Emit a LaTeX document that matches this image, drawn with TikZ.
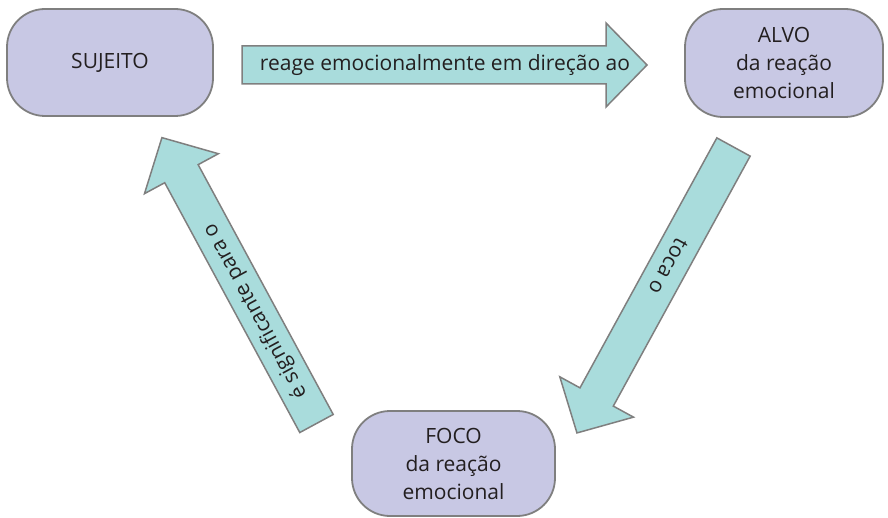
\documentclass[tikz,border=0pt]{standalone}
\usepackage{fontspec}
\setmainfont{Open Sans}
\definecolor{boxfill}{HTML}{C8C8E4}
\definecolor{arrowfill}{HTML}{A9DCDC}
\definecolor{edgegray}{HTML}{7F7F7F}
\definecolor{inkcol}{HTML}{231F20}
\tikzset{
  x=1pt, y=-1pt,
  boxnode/.style={draw=edgegray, line width=1.8pt, fill=boxfill, rounded corners=38pt,
    align=center, text=inkcol, font=\fontsize{21}{28}\selectfont, inner sep=0pt},
  arrowbody/.style={draw=edgegray, line width=1.5pt, fill=arrowfill, line join=miter},
  arrowlabel/.style={text=inkcol, font=\fontsize{21}{25}\selectfont, inner sep=0pt, transform shape},
  pics/blockarrow/.style n args={3}{code={
    \draw[arrowbody] (0,-19) -- ({#1-41},-19) -- ({#1-41},-42) -- (#1,0)
      -- ({#1-41},42) -- ({#1-41},19) -- (0,19) -- cycle;
    \node[arrowlabel] at (#3,0) {#2};
  }}
}
\begin{document}
\begin{tikzpicture}
\useasboundingbox (0,0) rectangle (888,518);
\node[boxnode, minimum width=206pt, minimum height=107pt] (suj) at (110,62.5) {SUJEITO};
\node[boxnode, minimum width=198pt, minimum height=108pt] (alvo) at (784,63) {ALVO\\da reação\\emocional};
\node[boxnode, minimum width=203pt, minimum height=105pt] (foco) at (453.5,463.5) {FOCO\\da reação\\emocional};
% connectors
\coordinate (a1) at (242,65);
\coordinate (a2) at (733.5,147);
\coordinate (a3) at (316.5,423.5);
\pic[rotate=0] at (a1) {blockarrow={405}{reage emocionalmente em direção ao}{203}};
\pic[rotate=-118.7] at (a2) {blockarrow={326}{toca o}{136}};
\pic[rotate=118.4] at (a3) {blockarrow={325}{é significante para o}{128}};
\end{tikzpicture}
\end{document}
